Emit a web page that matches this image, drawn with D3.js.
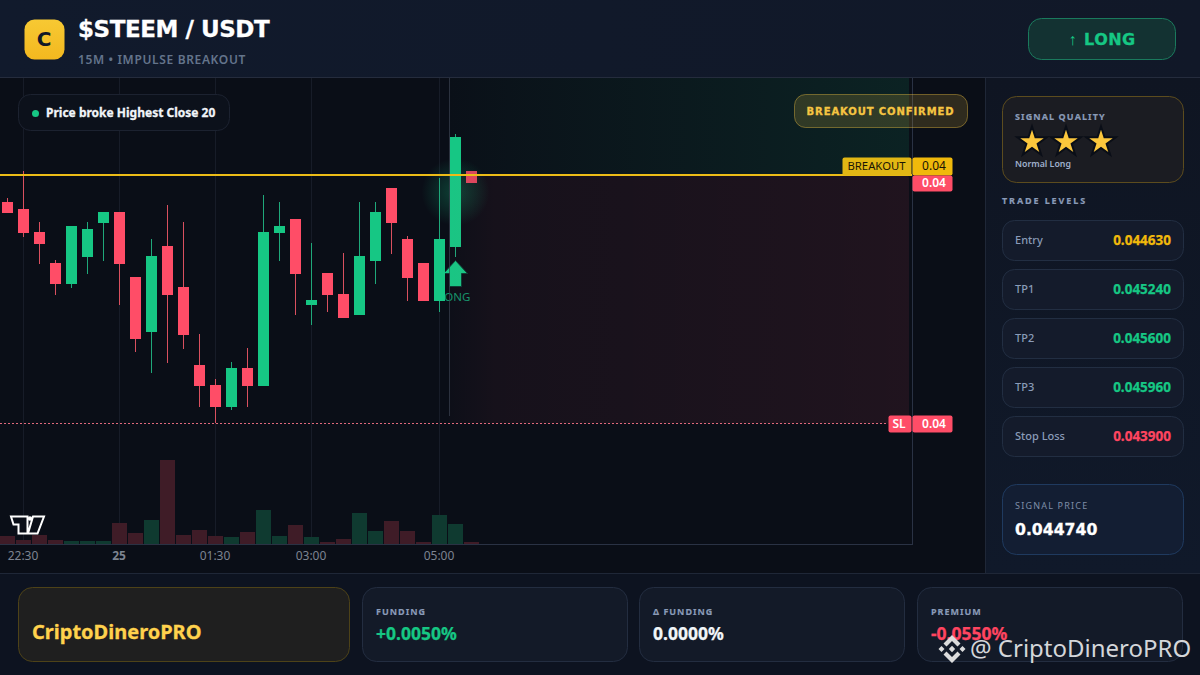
<!DOCTYPE html>
<html>
<head>
    <title>$STEEM / USDT</title>
    <script src="https://d3js.org/d3.v7.min.js"></script>
    <style>
        html, body { margin: 0; padding: 0; background: #0a0e17; overflow: hidden; }
        text { font-family: "Noto Sans", sans-serif; }
    </style>
</head>
<body>
    <script>
        var times = ["22:15", "22:30", "22:45", "23:00", "23:15", "23:30", "23:45", "00:00", "00:15", "00:30",
            "00:45", "01:00", "01:15", "01:30", "01:45", "02:00", "02:15", "02:30", "02:45", "03:00",
            "03:15", "03:30", "03:45", "04:00", "04:15", "04:30", "04:45", "05:00", "05:15", "05:30"];
        var opens = [0.044551, 0.044530, 0.044463, 0.044371, 0.044310, 0.044389, 0.044489, 0.044521, 0.044330, 0.044169,
            0.044421, 0.044301, 0.044072, 0.044013, 0.043948, 0.044063, 0.044010, 0.044460, 0.044501, 0.044248,
            0.044342, 0.044280, 0.044219, 0.044377, 0.044592, 0.044442, 0.044371, 0.044260, 0.044418, 0.044642];
        var highs = [0.044562, 0.044642, 0.044492, 0.044380, 0.044480, 0.044492, 0.044521, 0.044521, 0.044330, 0.044442,
            0.044542, 0.044492, 0.044163, 0.044031, 0.044081, 0.044122, 0.044571, 0.044551, 0.044501, 0.044430,
            0.044342, 0.044401, 0.044551, 0.044551, 0.044592, 0.044451, 0.044371, 0.044621, 0.044750, 0.044642];
        var lows = [0.044518, 0.044448, 0.044369, 0.044277, 0.044298, 0.044339, 0.044377, 0.044248, 0.044110, 0.044048,
            0.044078, 0.044119, 0.043948, 0.043901, 0.043940, 0.043948, 0.044010, 0.044377, 0.044219, 0.044189,
            0.044228, 0.044210, 0.044219, 0.044310, 0.044398, 0.044260, 0.044260, 0.044228, 0.044389, 0.044606];
        var closes = [0.044518, 0.044460, 0.044427, 0.044310, 0.044480, 0.044471, 0.044521, 0.044369, 0.044148, 0.044392,
            0.044277, 0.044160, 0.044010, 0.043948, 0.044063, 0.044010, 0.044463, 0.044480, 0.044339, 0.044263,
            0.044277, 0.044210, 0.044392, 0.044521, 0.044489, 0.044327, 0.044260, 0.044442, 0.044742, 0.044606];
        var volumes = [8, 4, 9, 4, 3, 3, 3, 21, 11, 24, 84, 9, 14, 8, 7, 12, 34, 8, 19, 7, 2, 5, 31, 13, 23, 13, 2, 29, 20, 2];

        var tickTimes = ["22:30", "00:00", "01:30", "03:00", "05:00"];
        var tickLabels = ["22:30", "25", "01:30", "03:00", "05:00"];

        var breakoutPrice = 0.04463;
        var stopPrice = 0.0439;
        var signalTime = "05:15";

        var levelNames = ["Entry", "TP1", "TP2", "TP3", "Stop Loss"];
        var levelValues = ["0.044630", "0.045240", "0.045600", "0.045960", "0.043900"];
        var levelColors = ["#f0b90b", "#16c784", "#16c784", "#16c784", "#ff4560"];

        var statNames = ["FUNDING", "Δ FUNDING", "PREMIUM"];
        var statValues = ["+0.0050%", "0.0000%", "-0.0550%"];
        var statColors = ["#16c784", "#f1f5f9", "#ff4560"];

        var green = "#16c784", red = "#ff4d67", gold = "#f0b90b";

        var svg = d3.select("body").append("svg").attr("width", 1200).attr("height", 675)
            .style("display", "block");
        var defs = svg.append("defs");

        function gradient(id, stops, horizontal, radial) {
            var g = defs.append(radial ? "radialGradient" : "linearGradient").attr("id", id);
            if (!radial) {
                g.attr("x1", 0).attr("y1", 0).attr("x2", horizontal ? 1 : 0).attr("y2", horizontal ? 0 : 1);
            }
            stops.forEach(function(s) {
                g.append("stop").attr("offset", s[0]).attr("stop-color", s[1]).attr("stop-opacity", s[2]);
            });
        }
        gradient("headBg", [[0, "#111a2c", 1], [1, "#111828", 1]], true);
        gradient("sideBg", [[0, "#0f1522", 1], [1, "#10192a", 1]], false);
        gradient("iconBg", [[0, "#f7c933", 1], [1, "#f3b81f", 1]], false);
        gradient("greenZone", [[0, green, 0.01], [0.15, green, 0.03], [1, green, 0.11]], true);
        gradient("redZone", [[0, red, 0.015], [0.1, red, 0.05], [1, red, 0.09]], true);
        gradient("glow", [[0, green, 0.28], [0.6, green, 0.12], [1, green, 0]], false, true);

        function box(x, y, w, h, r, fill, stroke) {
            return svg.append("rect").attr("x", x + 0.5).attr("y", y + 0.5).attr("width", w).attr("height", h)
                .attr("rx", r).attr("fill", fill).attr("stroke", stroke || "none");
        }
        function label(x, y, str, size, weight, color, spacing, anchor, family) {
            var t = svg.append("text").attr("x", x).attr("y", y).text(str)
                .attr("font-size", size).attr("font-weight", weight).attr("fill", color)
                .attr("letter-spacing", spacing || 0).attr("text-anchor", anchor || "start");
            if (family) t.style("font-family", family);
            return t;
        }
        // the reference text is a bit fatter than the fonts we have here
        function heavy(t, w) {
            return t.attr("stroke", t.attr("fill")).attr("stroke-width", w || 0.3);
        }
        var wide = '"DejaVu Sans", sans-serif';

        // page panels
        svg.append("rect").attr("width", 1200).attr("height", 675).attr("fill", "#0a0e17");
        svg.append("rect").attr("width", 1200).attr("height", 77).attr("fill", "url(#headBg)");
        svg.append("rect").attr("x", 0).attr("y", 77).attr("width", 1200).attr("height", 1).attr("fill", "#252c3d");
        svg.append("rect").attr("x", 985).attr("y", 78).attr("width", 215).attr("height", 495).attr("fill", "url(#sideBg)");
        svg.append("rect").attr("x", 985).attr("y", 78).attr("width", 1).attr("height", 495).attr("fill", "#1f2737");
        svg.append("rect").attr("x", 0).attr("y", 574).attr("width", 1200).attr("height", 101).attr("fill", "#0d1320");
        svg.append("rect").attr("x", 0).attr("y", 573).attr("width", 1200).attr("height", 1).attr("fill", "#1f2737");

        // scales
        var x = d3.scaleBand().domain(times).range([0, 480]);
        var y = d3.scaleLinear().domain([stopPrice, breakoutPrice]).range([423.5, 175]);
        var yVol = d3.scaleLinear().domain([0, 84]).range([544, 460]);
        function cx(t) { return x(t) + 7.5; }

        // grid
        svg.append("g").selectAll("line").data(tickTimes).join("line")
            .attr("x1", cx).attr("x2", cx).attr("y1", 78).attr("y2", 544)
            .attr("stroke", "#171c28");

        // volume
        svg.append("g").selectAll("rect").data(times).join("rect")
            .attr("x", function(d) { return x(d); })
            .attr("width", 15)
            .attr("y", function(d, i) { return yVol(volumes[i]); })
            .attr("height", function(d, i) { return yVol(0) - yVol(volumes[i]); })
            .attr("fill", function(d, i) { return closes[i] >= opens[i] ? "#0f3a30" : "#3f1c27"; });

        // glow and signal arrow, these sit under the candles
        svg.append("circle").attr("cx", cx(signalTime)).attr("cy", 192).attr("r", 34).attr("fill", "url(#glow)");
        svg.append("path")
            .attr("d", "M0,0L12,13L6,13L6,26L-6,26L-6,13L-12,13Z")
            .attr("transform", "translate(" + cx(signalTime) + ",260.5)")
            .attr("fill", green).attr("stroke", "#0a3d34");
        label(cx(signalTime) - 1, 301, "LONG", 11.5, 400, "#12966b", 0, "middle");

        // candles
        var candles = svg.append("g").selectAll("g").data(times).join("g")
            .attr("opacity", function(d, i) { return i == times.length - 1 ? 0.86 : 1; });
        candles.append("line")
            .attr("x1", cx).attr("x2", cx)
            .attr("y1", function(d, i) { return Math.round(y(highs[i])); })
            .attr("y2", function(d, i) { return Math.round(y(lows[i])); })
            .attr("stroke", function(d, i) { return closes[i] >= opens[i] ? "#1fa87a" : "#d9505f"; });
        candles.append("rect")
            .attr("x", function(d) { return x(d) + 2; })
            .attr("width", 11)
            .attr("y", function(d, i) { return Math.round(y(Math.max(opens[i], closes[i]))); })
            .attr("height", function(d, i) { return Math.round(y(Math.min(opens[i], closes[i]))) - Math.round(y(Math.max(opens[i], closes[i]))); })
            .attr("fill", function(d, i) { return closes[i] >= opens[i] ? green : red; });

        // target and stop zones
        var zoneLeft = cx(signalTime) - 6;
        svg.append("rect").attr("x", zoneLeft).attr("y", 78).attr("width", 909 - zoneLeft).attr("height", y(breakoutPrice) - 78)
            .attr("fill", "url(#greenZone)");
        svg.append("rect").attr("x", zoneLeft).attr("y", y(breakoutPrice)).attr("width", 909 - zoneLeft).attr("height", y(stopPrice) - y(breakoutPrice))
            .attr("rx", 4).attr("fill", "url(#redZone)");
        svg.append("line").attr("x1", zoneLeft).attr("x2", zoneLeft).attr("y1", 78).attr("y2", 416)
            .attr("stroke", "#3a4150").attr("stroke-opacity", 0.7);

        // price lines
        svg.append("line").attr("x1", 0).attr("x2", 912).attr("y1", y(breakoutPrice)).attr("y2", y(breakoutPrice))
            .attr("stroke", "#ecbc17").attr("stroke-width", 2);
        svg.append("line").attr("x1", 0).attr("x2", 888).attr("y1", y(stopPrice)).attr("y2", y(stopPrice))
            .attr("stroke", "#e0697c").attr("stroke-dasharray", "2 2");

        // chart frame
        svg.append("rect").attr("x", 912).attr("y", 78).attr("width", 1).attr("height", 467).attr("fill", "#2a3244");

        // time axis
        var axis = d3.axisBottom(x).tickValues(tickTimes).tickSize(0).tickPadding(7)
            .tickFormat(function(d, i) { return tickLabels[i]; });
        var axisG = svg.append("g").attr("transform", "translate(-1,544.5)").call(axis);
        axisG.select(".domain").attr("stroke", "#2a3244").attr("d", "M1,0H913");
        axisG.selectAll("text").attr("font-size", 12).attr("fill", "#7d8491")
            .style("font-family", '"Noto Sans", sans-serif')
            .attr("font-weight", function(d) { return d == "00:00" ? 700 : 400; });

        // price labels
        box(842, 157, 69, 18, 2, "#e2b714");
        label(876.5, 170, "BREAKOUT", 11.3, 400, "#1a1405", 0, "middle");
        box(912, 157, 40, 18, 2, gold);
        label(934, 170, "0.04", 12, 400, "#1a1405", 0, "middle");
        box(912, 175, 40, 16, 2, red);
        label(934, 187, "0.04", 12, 600, "#ffffff", 0, "middle");
        box(888, 415, 23, 17, 2, red);
        label(899, 428, "SL", 12, 600, "#ffffff", 0, "middle");
        box(912, 415, 40, 17, 2, red);
        label(934, 428, "0.04", 12, 600, "#ffffff", 0, "middle");

        // chart logo
        svg.append("path").attr("d", "M11,516.5H27.5V533.5H18.5V524.5H13.5Z M33,516.5H44L37.5,533.5H28Z")
            .attr("fill", "#0a0e17").attr("stroke", "#ffffff").attr("stroke-width", 2);
        svg.append("circle").attr("cx", 30).attr("cy", 518.5).attr("r", 2.2).attr("fill", "#ffffff");

        // chart badges
        box(18, 94, 211, 36, 12, "#0c111b", "#1c2230");
        svg.append("circle").attr("cx", 35.5).attr("cy", 113.5).attr("r", 3.5).attr("fill", green);
        heavy(label(46, 117, "Price broke Highest Close 20", 12, 700, "#f1f5f9"));
        box(794, 94, 173, 33, 11, "#f5c542", "#f5c542").attr("fill-opacity", 0.16).attr("stroke-opacity", 0.4);
        heavy(label(880.5, 115, "BREAKOUT CONFIRMED", 10, 700, "#f5c542", 0.9, "middle", wide));

        // header
        box(24, 19, 40, 40, 10, "url(#iconBg)");
        label(44, 46, "C", 20, 700, "#111827", 0, "middle", wide);
        heavy(label(78, 37, "$STEEM / USDT", 23, 700, "#ffffff", -0.45, "start", wide));
        label(78, 64, "15M • IMPULSE BREAKOUT", 12, 600, "#64748b", 0.65);
        box(1028, 18, 147, 41, 13, "#133232", "#1a7a5d");
        label(1072.5, 45, "↑", 16, 400, green, 0, "middle");
        heavy(label(1084, 45, "LONG", 16, 700, green, 0.5, "start", wide));

        // signal quality
        box(1002, 96, 181, 86, 14, "#1b1c22", "#5c4c1e");
        heavy(label(1015, 120, "SIGNAL QUALITY", 9, 700, "#8a9bb8", 1.1), 0.2);
        svg.append("g").selectAll("path").data([1032, 1066, 1101]).join("path")
            .attr("d", d3.symbol(d3.symbolStar).size(270))
            .attr("transform", function(d) { return "translate(" + d + ",142)"; })
            .attr("fill", "#fcc73c").attr("stroke", "#0a0e17").attr("stroke-width", 2);
        label(1015, 167, "Normal Long", 8.8, 600, "#9fb0cc");

        // trade levels
        heavy(label(1002, 204, "TRADE LEVELS", 9, 700, "#8a9bb8", 1.9), 0.2);
        levelNames.forEach(function(name, i) {
            var top = 220 + i * 49;
            box(1002, top, 181, 40, 12, "#141b2b", "#222e42");
            label(1015, top + 24, name, 11, 500, "#8a9bb8");
            heavy(label(1171, top + 25, levelValues[i], 13.5, 700, levelColors[i], 0, "end"), 0.25);
        });

        // signal price
        box(1002, 484, 181, 70, 14, "#131e33", "#1f3a5f");
        label(1015, 509, "SIGNAL PRICE", 9, 400, "#7f8ea8", 1.2);
        heavy(label(1015, 535, "0.044740", 15.7, 700, "#ffffff", 0, "start", wide));

        // footer cards
        box(18, 587, 331, 74, 14, "#1f1f1f", "#4d4218");
        heavy(label(32, 639, "CriptoDineroPRO", 20, 700, "#ffd24d"));
        [362, 639, 917].forEach(function(left, i) {
            box(left, 587, 265, 74, 14, "#131a28", "#232d40");
            heavy(label(left + 14, 615, statNames[i], 9, 700, "#8a9bb8", 1), 0.15);
            heavy(label(left + 14, 640, statValues[i], 17.5, 700, statColors[i]), 0.25);
        });

        // watermark
        var mark = svg.append("g").attr("transform", "translate(952,649)").attr("fill", "#dcdcdc");
        mark.append("path").attr("d", "M0,-14L8.5,-5.5L5.5,-2.5L0,-8L-5.5,-2.5L-8.5,-5.5Z");
        mark.append("path").attr("d", "M0,14L8.5,5.5L5.5,2.5L0,8L-5.5,2.5L-8.5,5.5Z");
        mark.append("path").attr("d", "M0,-3.2L3.2,0L0,3.2L-3.2,0Z");
        mark.append("path").attr("d", "M-10.5,-3L-7.5,0L-10.5,3L-13.5,0Z");
        mark.append("path").attr("d", "M10.5,-3L13.5,0L10.5,3L7.5,0Z");
        label(970, 657, "@ CriptoDineroPRO", 24, 400, "#d4d6da");
    </script>
</body>
</html>
